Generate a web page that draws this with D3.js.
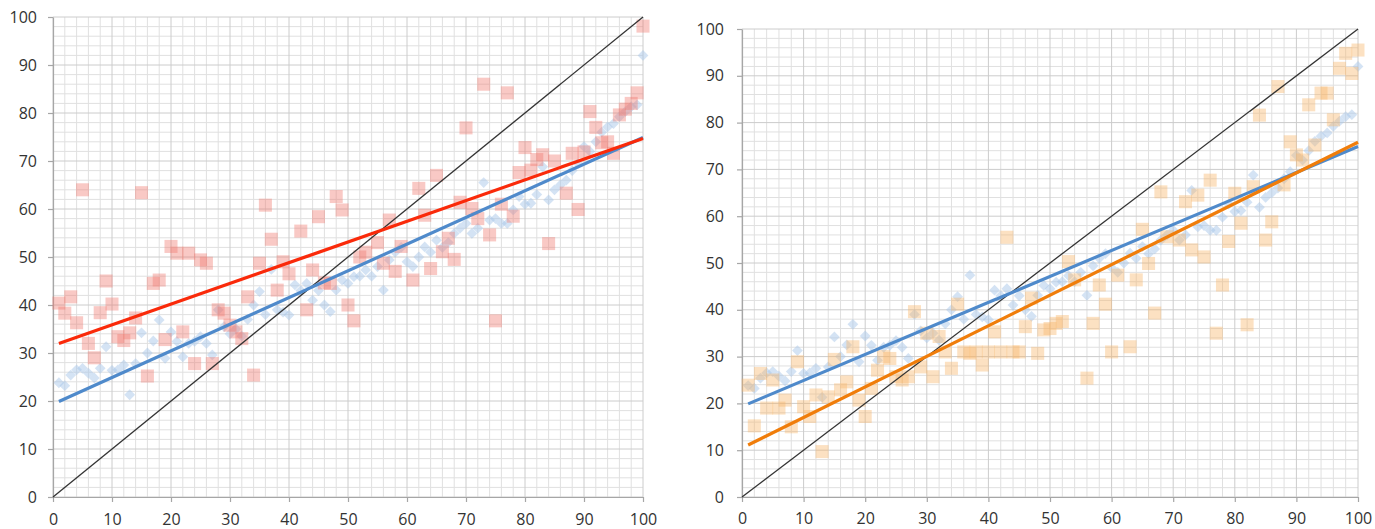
<!DOCTYPE html>
<html>
<head>
<meta charset="utf-8">
<script src="https://cdn.jsdelivr.net/npm/d3@7"></script>
<style>
  html, body { margin: 0; padding: 0; background: #fff; }
  svg { display: block; }
</style>
</head>
<body>
<div id="chart"></div>
<script>
// ticks shared by both panels
const tickValues = [0, 10, 20, 30, 40, 50, 60, 70, 80, 90, 100];

// light blue diamonds (same series in both panels)
const bluePoints = [
  [1,23.8],[2,23.2],[3,25.4],[4,26.5],[5,26.8],[6,25.8],[7,24.8],[8,26.8],[9,31.3],[10,26.4],
  [11,26.5],[12,27.5],[13,21.3],[14,27.8],[15,34.2],[16,30],[17,32.5],[18,36.9],[19,28.9],[20,34.4],
  [21,32.4],[22,29.2],[23,32],[24,32.4],[25,33.4],[26,32],[27,29.6],[28,39],[29,35.5],[30,34],
  [31,35],[32,33.5],[33,37],[34,40],[35,42.8],[36,38],[37,47.4],[38,39],[39,38.5],[40,37.9],
  [41,44.2],[42,43],[43,44.5],[44,41],[45,43],[46,40],[47,38.6],[48,43.1],[49,45.2],[50,44.5],
  [51,45.9],[52,46],[53,47.3],[54,46],[55,48],[56,43.1],[57,49.4],[58,51],[59,52],[60,49],
  [61,48],[62,50],[63,52.1],[64,51],[65,53.5],[66,52],[67,53],[68,54.9],[69,56],[70,57],
  [71,54.9],[72,56],[73,65.5],[74,57.7],[75,58],[76,57],[77,57],[78,59.8],[79,62.6],[80,61],
  [81,61.2],[82,63],[83,68.8],[84,61.9],[85,64],[86,65],[87,66],[88,68],[89,69.5],[90,73],
  [91,72],[92,74],[93,76],[94,77.1],[95,77.8],[96,79.2],[97,80.3],[98,81.3],[99,81.7],[100,92]
];

// red squares, left panel
const redPoints = [
  [1,40.4],[2,38.3],[3,41.7],[4,36.3],[5,64],[6,32],[7,29],[8,38.4],[9,45],[10,40.2],
  [11,33.4],[12,32.6],[13,34.2],[14,37.3],[15,63.4],[16,25.2],[17,44.5],[18,45.2],[19,32.8],[20,52.2],
  [21,50.8],[22,34.4],[23,50.8],[24,27.8],[25,49.4],[26,48.7],[27,27.8],[28,39],[29,38.3],[30,35.8],
  [31,34.4],[32,33],[33,41.7],[34,25.4],[35,48.7],[36,60.8],[37,53.7],[38,43.1],[39,49],[40,46.5],
  [42,55.4],[43,39],[44,47.3],[45,58.4],[46,44.6],[47,44.5],[48,62.6],[49,59.8],[50,40],
  [51,36.7],[52,50],[53,51],[55,53],[56,48.7],[57,57.7],[58,47],[59,52.2],[61,45.2],[62,64.3],
  [63,58.7],[64,47.6],[65,67],[66,51.1],[67,53.9],[68,49.5],[69,61.4],[70,76.9],[71,60.1],[72,58],
  [73,86],[74,54.6],[75,36.7],[76,61],[77,84.2],[78,58.5],[79,67.6],[80,72.8],[81,68.1],[82,70.3],
  [83,71.3],[84,52.8],[85,70],[87,63.3],[88,71.6],[89,59.9],[90,71.9],[91,80.3],[92,77],[93,73.8],
  [94,74],[95,71.6],[96,79.6],[97,80.8],[98,82],[99,84.2],[100,98.1]
];

// orange squares, right panel
const orangePoints = [
  [1,23.9],[2,15.2],[3,26.4],[4,19],[5,25],[6,19],[7,20.7],[8,15],[9,28.9],[10,19.3],
  [11,17.2],[12,21.8],[13,9.7],[14,21.4],[15,29.4],[16,22.9],[17,24.6],[18,32.1],[19,20.7],[20,17.2],
  [21,23.2],[22,27.1],[23,30],[24,29.6],[25,25.7],[26,25],[27,25.7],[28,39.6],[29,27.8],[30,35],
  [31,25.7],[32,34.3],[33,31],[34,27.5],[35,41.2],[36,31],[37,30.7],[38,31],[39,28.2],[40,31],
  [41,35.3],[42,31],[43,55.5],[44,31],[45,31],[46,36.4],[47,42.5],[48,30.7],[49,35.7],[50,36],
  [51,37.1],[52,37.5],[53,50.3],[54,46.4],[56,25.4],[57,37.1],[58,45.3],[59,41.2],[60,31],
  [61,47.4],[63,32.1],[64,46.4],[65,57.2],[66,49.9],[67,39.3],[68,65.2],[69,55.6],[71,54.9],[72,63.1],
  [73,52.8],[74,64.5],[75,51.3],[76,67.7],[77,35],[78,45.3],[79,54.6],[80,64.9],[81,58.5],[82,36.8],
  [83,66.3],[84,81.6],[85,54.9],[86,58.8],[87,87.7],[88,66.7],[89,75.9],[90,73.1],[91,72],[92,83.8],
  [93,75.2],[94,86.3],[95,86.3],[96,80.6],[97,91.6],[98,94.8],[99,90.5],[100,95.5]
];

// trend lines (end points) and the y = x reference
const blueTrend = [[1,19.9],[100,74.9]];
const redTrend = [[1,32],[100,74.7]];
const orangeTrend = [[1,11.1],[100,75.8]];
const diagonal = [[0,0],[100,100]];

const svg = d3.select("#chart").append("svg")
  .attr("width", 1375)
  .attr("height", 529);

const defs = svg.append("defs");
defs.append("filter")
  .attr("id", "soft")
  .attr("x", "-20%").attr("y", "-20%").attr("width", "140%").attr("height", "140%")
  .append("feGaussianBlur")
  .attr("stdDeviation", 0.7);

function drawPanel(opts) {
  const { left, top, width, height, squares, squareColor, trend, trendColor, labelPad, xPad } = opts;

  const x = d3.scaleLinear().domain([0, 100]).range([0, width]);
  const y = d3.scaleLinear().domain([0, 100]).range([height, 0]);

  const g = svg.append("g").attr("transform", `translate(${left},${top})`);

  // minor grid every 2, major every 10
  const minor = d3.range(0, 101, 2).filter(v => v % 10 !== 0);
  g.append("g").selectAll("line.vmin")
    .data(minor).join("line")
    .attr("x1", d => x(d)).attr("x2", d => x(d))
    .attr("y1", 0).attr("y2", height)
    .attr("stroke", "#e0e0e0");
  g.append("g").selectAll("line.hmin")
    .data(minor).join("line")
    .attr("y1", d => y(d)).attr("y2", d => y(d))
    .attr("x1", 0).attr("x2", width)
    .attr("stroke", "#e0e0e0");
  g.append("g").selectAll("line.vmaj")
    .data(tickValues).join("line")
    .attr("x1", d => x(d)).attr("x2", d => x(d))
    .attr("y1", 0).attr("y2", height)
    .attr("stroke", "#cccccc");
  g.append("g").selectAll("line.hmaj")
    .data(tickValues).join("line")
    .attr("y1", d => y(d)).attr("y2", d => y(d))
    .attr("x1", 0).attr("x2", width)
    .attr("stroke", "#cccccc");

  // axes
  const yAxis = g.append("g")
    .call(d3.axisLeft(y).tickValues(tickValues).tickSize(5).tickSizeOuter(0).tickPadding(labelPad));
  const xAxis = g.append("g")
    .attr("transform", `translate(0,${height})`)
    .call(d3.axisBottom(x).tickValues(tickValues).tickSize(5).tickSizeOuter(0).tickPadding(xPad));
  [yAxis, xAxis].forEach(a => {
    a.select(".domain").attr("stroke", "#a6a6a6").attr("stroke-width", 1.2);
    a.selectAll(".tick line").attr("stroke", "#a6a6a6").attr("stroke-width", 1.2);
    a.selectAll(".tick text")
      .attr("fill", "#333")
      .attr("font-family", "'Open Sans', Arial, sans-serif")
      .attr("font-size", "16px");
  });

  const marks = g.append("g").attr("filter", "url(#soft)");

  // blue diamonds
  marks.selectAll("path.blue")
    .data(bluePoints).join("path")
    .attr("class", "blue")
    .attr("d", d3.symbol(d3.symbolSquare, 58)())
    .attr("transform", d => `translate(${x(d[0])},${y(d[1])}) rotate(45)`)
    .attr("fill", "#a9c7ea")
    .attr("fill-opacity", 0.5);

  // coloured squares
  marks.selectAll("path.sq")
    .data(squares).join("path")
    .attr("class", "sq")
    .attr("d", d3.symbol(d3.symbolSquare, 170)())
    .attr("transform", d => `translate(${x(d[0])},${y(d[1])})`)
    .attr("fill", squareColor)
    .attr("fill-opacity", 0.4);

  const line = d3.line().x(d => x(d[0])).y(d => y(d[1]));

  g.append("path").datum(diagonal)
    .attr("d", line).attr("fill", "none")
    .attr("stroke", "#333").attr("stroke-width", 1.3);
  g.append("path").datum(blueTrend)
    .attr("d", line).attr("fill", "none")
    .attr("stroke", "#4f8acb").attr("stroke-width", 3.2);
  g.append("path").datum(trend)
    .attr("d", line).attr("fill", "none")
    .attr("stroke", trendColor).attr("stroke-width", 3.2);
}

// left panel: red
drawPanel({
  left: 53, top: 17, width: 590, height: 480,
  squares: redPoints, squareColor: "#f0786e",
  trend: redTrend, trendColor: "#fa2a0a",
  labelPad: 11, xPad: 12
});

// right panel: orange
drawPanel({
  left: 742, top: 29, width: 616, height: 468,
  squares: orangePoints, squareColor: "#f8b366",
  trend: orangeTrend, trendColor: "#f07d0a",
  labelPad: 13, xPad: 11
});
</script>
</body>
</html>
